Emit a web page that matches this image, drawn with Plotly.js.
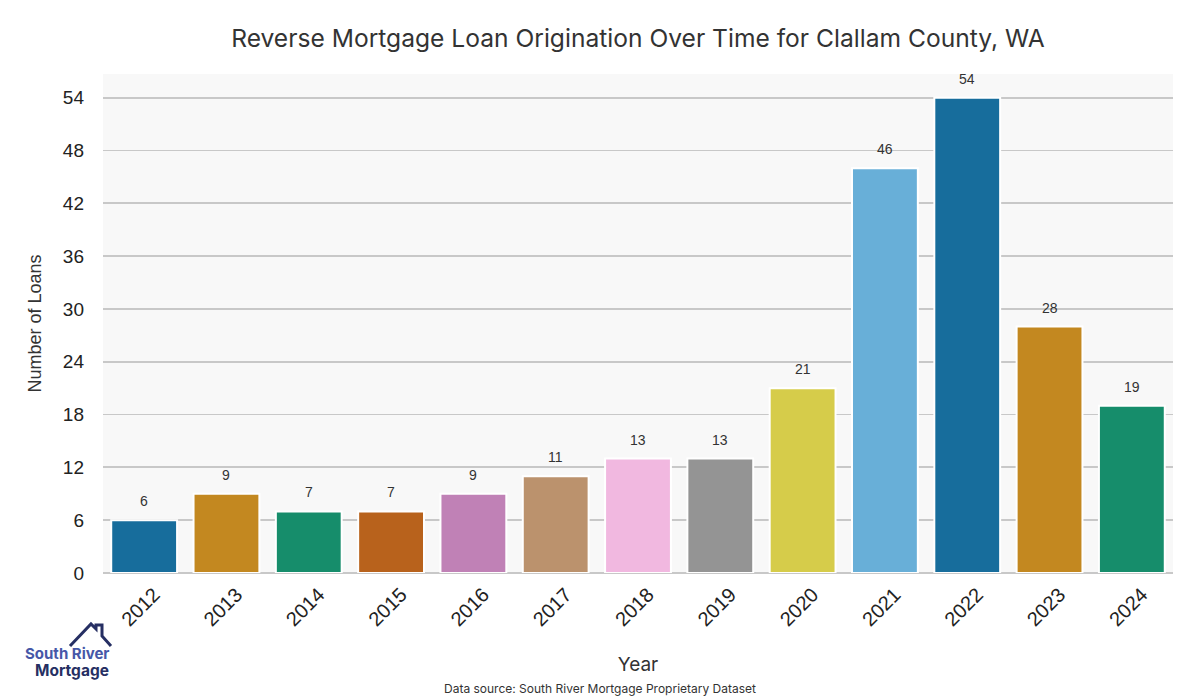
<!DOCTYPE html>
<html>
<head>
<meta charset="utf-8">
<script src="https://cdn.plot.ly/plotly-3.0.1.min.js"></script>
<style>html,body{margin:0;padding:0;background:#fff;}#chart{width:1200px;height:700px;}</style>
</head>
<body>
<div id="chart"></div>
<script>
const years = ["2012","2013","2014","2015","2016","2017","2018","2019","2020","2021","2022","2023","2024"];
const loans = [6, 9, 7, 7, 9, 11, 13, 13, 21, 46, 54, 28, 19];
const barColors = ["#176d9c","#c38820","#168d6b","#b8621c","#c081b6","#bb926d","#f1b8e0","#949494","#d6cc4a","#68afd8","#176d9c","#c38820","#168d6b"];
const yTicks = [0, 6, 12, 18, 24, 30, 36, 42, 48, 54];

const titleText = "Reverse Mortgage Loan Origination Over Time for Clallam County, WA";
const xTitle = "Year";
const yTitle = "Number of Loans";
const sourceText = "Data source: South River Mortgage Proprietary Dataset";

const L = 103, R = 27, T = 74, B = 127, W = 1200, H = 700;
const pw = W - L - R, ph = H - T - B;
const px = x => (x - L) / pw;
const py = y => (H - B - y) / ph;

const trace = {
  type: "bar",
  x: years,
  y: loans,
  marker: {color: barColors, line: {color: "#ffffff", width: 2}},
  width: 0.8,
  hoverinfo: "x+y"
};

const labelAnns = years.map((yr, i) => ({
  x: i, y: loans[i], xref: "x", yref: "y",
  text: String(loans[i]), showarrow: false,
  yanchor: "bottom", yshift: 9,
  font: {family: "Liberation Sans, Arial, sans-serif", size: 14, color: "#333333"}
}));

const otherAnns = [
  {x: px(600), y: py(688), xref: "paper", yref: "paper", xanchor: "center", yanchor: "middle",
   text: sourceText, showarrow: false,
   font: {family: "Inter, Lato, sans-serif", size: 12, color: "#333333"}},
  {x: px(111), y: py(653), xref: "paper", yref: "paper", xanchor: "right", yanchor: "middle",
   text: "<b>South River</b>", showarrow: false,
   font: {family: "Inter, sans-serif", size: 15, color: "#4657a8"}},
  {x: px(111), y: py(670), xref: "paper", yref: "paper", xanchor: "right", yanchor: "middle",
   text: "<b>Mortgage</b>", showarrow: false,
   font: {family: "Inter, sans-serif", size: 15.5, color: "#262f63"}}
];

const housePath = `M ${px(70)} ${py(646)} L ${px(91)} ${py(624)} L ${px(96)} ${py(629)} L ${px(96)} ${py(625)} L ${px(102)} ${py(625)} L ${px(102)} ${py(636)} L ${px(111)} ${py(646)}`;

const layout = {
  width: W, height: H,
  margin: {l: L, r: R, t: T, b: B, pad: 0},
  paper_bgcolor: "#ffffff",
  plot_bgcolor: "#f8f8f8",
  showlegend: false,
  bargap: 0.2,
  title: {
    text: titleText, x: px(638), xref: "paper", y: 1 - 38 / H, yref: "container",
    xanchor: "center", yanchor: "middle",
    font: {family: "Inter, Lato, sans-serif", size: 24.6, color: "#333333"}
  },
  xaxis: {
    type: "category",
    range: [-0.5, years.length - 0.5],
    title: {text: xTitle, standoff: 28, font: {family: "Inter, Lato, sans-serif", size: 19, color: "#333333"}},
    tickangle: -45,
    tickfont: {family: "Liberation Sans, Arial, sans-serif", size: 20, color: "#222222"},
    ticks: "", showgrid: false, zeroline: false, showline: false,
    ticklabelshift: 10, ticklabelstandoff: 5, fixedrange: true
  },
  yaxis: {
    range: [0, 56.7],
    tickvals: yTicks,
    ticktext: yTicks.map(String),
    title: {text: yTitle, standoff: 16, font: {family: "Liberation Sans, Arial, sans-serif", size: 18, color: "#333333"}},
    tickfont: {family: "Liberation Sans, Arial, sans-serif", size: 19, color: "#222222"},
    ticks: "", ticklabelstandoff: 18,
    showgrid: true, gridcolor: "#c8c8c8", gridwidth: 1.8,
    zeroline: true, zerolinecolor: "#c8c8c8", zerolinewidth: 1.8,
    showline: false, fixedrange: true
  },
  annotations: labelAnns.concat(otherAnns),
  shapes: [
    {type: "path", xref: "paper", yref: "paper", path: housePath,
     line: {color: "#262f63", width: 3}, fillcolor: "rgba(0,0,0,0)"}
  ]
};

Plotly.newPlot("chart", [trace], layout, {displayModeBar: false, staticPlot: true});
</script>
</body>
</html>
